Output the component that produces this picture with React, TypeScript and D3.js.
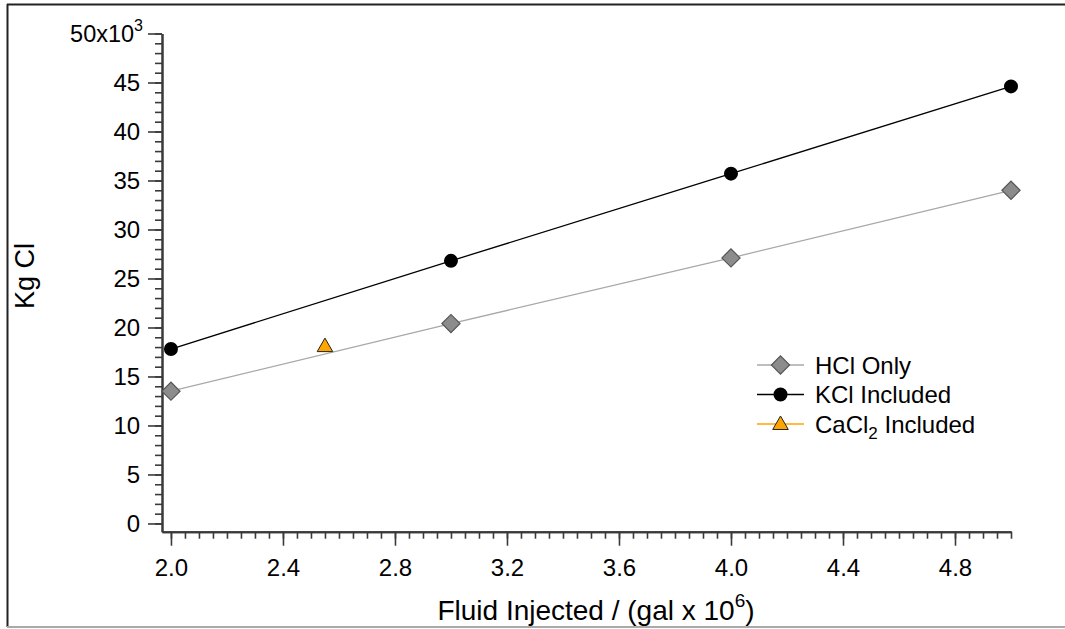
import React, { useEffect, useRef } from "react";
import * as d3 from "d3";

// fluid injected, gal x 10^6
const fluidInjected = [2.0, 3.0, 4.0, 5.0];
// Kg Cl (x 10^3)
const hclOnly = [13.5, 20.4, 27.1, 34.0];
const kclIncluded = [17.8, 26.8, 35.7, 44.6];
const cacl2Fluid = [2.55];
const cacl2Included = [18.1];

const xMajorTicks = [2.0, 2.4, 2.8, 3.2, 3.6, 4.0, 4.4, 4.8];
const yMajorTicks = [0, 5, 10, 15, 20, 25, 30, 35, 40, 45, 50];

const W = 1065;
const H = 629;
const FONT = "'Liberation Sans', Arial, sans-serif";

const colors = {
  axis: "#3a3a3a",
  hcl: "#a8a8a8",
  hclFill: "#8c8c8c",
  hclStroke: "#555",
  kcl: "#000",
  cacl2: "#ffa500",
};

const App = () => {
  const svgRef = useRef<SVGSVGElement>(null);

  useEffect(() => {
    const svg = d3.select(svgRef.current);
    svg.selectAll("*").remove();

    // frame
    svg.append("line").attr("x1", 7).attr("x2", W).attr("y1", 4.5).attr("y2", 4.5)
      .attr("stroke", "#222").attr("stroke-width", 2);
    svg.append("line").attr("x1", 7.5).attr("x2", 7.5).attr("y1", 4).attr("y2", 627)
      .attr("stroke", "#222").attr("stroke-width", 2);
    svg.append("line").attr("x1", 7).attr("x2", W).attr("y1", 627).attr("y2", 627)
      .attr("stroke", "#aaa").attr("stroke-width", 2);

    const x = d3.scaleLinear().domain([1.968, 5.0]).range([162, 1011]);
    const y = d3.scaleLinear().domain([-0.84, 50]).range([531.7, 33.5]);

    // x axis: minor then major
    const xMinor = d3.range(39, 101).map((i) => i * 0.05).filter((v) => v >= 1.968 && v <= 5.0001);
    const gxm = svg.append("g").attr("transform", "translate(0,531.7)")
      .call(d3.axisBottom(x).tickValues(xMinor).tickSize(7).tickSizeOuter(0).tickFormat(() => ""));
    const gx = svg.append("g").attr("transform", "translate(0,531.7)")
      .call(d3.axisBottom(x).tickValues(xMajorTicks).tickSize(14).tickSizeOuter(0).tickFormat(d3.format(".1f")));
    gx.selectAll("text").attr("dy", "1.15em");

    // y axis
    const yMinor = d3.range(0, 51);
    const gym = svg.append("g").attr("transform", "translate(162,0)")
      .call(d3.axisLeft(y).tickValues(yMinor).tickSize(7).tickSizeOuter(0).tickFormat(() => ""));
    const gy = svg.append("g").attr("transform", "translate(162,0)")
      .call(d3.axisLeft(y).tickValues(yMajorTicks).tickSize(14).tickSizeOuter(0)
        .tickFormat((d) => (d === 50 ? "" : String(d))));
    gy.selectAll("text").attr("dx", "-0.2em");

    [gxm, gx, gym, gy].forEach((g) => {
      g.select(".domain").attr("stroke", colors.axis).attr("stroke-width", 2);
      g.selectAll(".tick line").attr("stroke", colors.axis).attr("stroke-width", 1.6);
      g.selectAll("text").attr("font-family", FONT).attr("font-size", 24).attr("fill", "#000");
    });

    // top y label with exponent
    const top = svg.append("text").attr("x", 143).attr("y", y(50) + 8)
      .attr("text-anchor", "end").attr("font-family", FONT).attr("font-size", 23.5);
    top.append("tspan").text("50x10");
    top.append("tspan").attr("font-size", 16).attr("dy", -11).text("3");

    // lines
    const line = d3.line<number>().x((d, i) => x(fluidInjected[i])).y((d) => y(d));
    svg.append("path").datum(hclOnly).attr("d", line).attr("fill", "none")
      .attr("stroke", colors.hcl).attr("stroke-width", 1.3);
    svg.append("path").datum(kclIncluded).attr("d", line).attr("fill", "none")
      .attr("stroke", colors.kcl).attr("stroke-width", 1.3);

    const diamond = d3.symbol(d3.symbolSquare, 165)();
    const circle = d3.symbol(d3.symbolCircle, 154)();
    const triangle = d3.symbol(d3.symbolTriangle, 105)();

    const drawDiamond = (cx: number, cy: number) =>
      svg.append("path").attr("d", diamond)
        .attr("transform", `translate(${cx},${cy}) rotate(45)`)
        .attr("fill", colors.hclFill).attr("stroke", colors.hclStroke).attr("stroke-width", 1.2);
    const drawCircle = (cx: number, cy: number) =>
      svg.append("path").attr("d", circle).attr("transform", `translate(${cx},${cy})`)
        .attr("fill", "#000");
    const drawTriangle = (cx: number, cy: number) =>
      svg.append("path").attr("d", triangle).attr("transform", `translate(${cx},${cy + 1})`)
        .attr("fill", colors.cacl2).attr("stroke", "#222").attr("stroke-width", 1);

    hclOnly.forEach((v, i) => drawDiamond(x(fluidInjected[i]), y(v)));
    kclIncluded.forEach((v, i) => drawCircle(x(fluidInjected[i]), y(v)));
    cacl2Included.forEach((v, i) => drawTriangle(x(cacl2Fluid[i]), y(v)));

    // axis titles
    svg.append("text").attr("transform", "translate(34,276) rotate(-90)")
      .attr("text-anchor", "middle").attr("font-family", FONT).attr("font-size", 27).text("Kg Cl");
    const xt = svg.append("text").attr("x", 596).attr("y", 620)
      .attr("text-anchor", "middle").attr("font-family", FONT).attr("font-size", 28);
    xt.append("tspan").text("Fluid Injected / (gal x 10");
    xt.append("tspan").attr("font-size", 19).attr("dy", -13).text("6");
    xt.append("tspan").attr("dy", 13).text(")");

    // legend
    const legend = [
      { label: "HCl Only", color: colors.hcl, mark: drawDiamond, sub: "" },
      { label: "KCl Included", color: colors.kcl, mark: drawCircle, sub: "" },
      { label: "CaCl", color: colors.cacl2, mark: drawTriangle, sub: "2" },
    ];
    legend.forEach((l, i) => {
      const ly = 365 + i * 29.5;
      svg.append("line").attr("x1", 757).attr("x2", 804).attr("y1", ly).attr("y2", ly)
        .attr("stroke", l.color).attr("stroke-width", 1.3);
      l.mark(780.5, ly);
      const t = svg.append("text").attr("x", 815).attr("y", ly + 8.5)
        .attr("font-family", FONT).attr("font-size", 24);
      t.append("tspan").text(l.label);
      if (l.sub) {
        t.append("tspan").attr("font-size", 17).attr("dy", 6).text(l.sub);
        t.append("tspan").attr("dy", -6).text(" Included");
      }
    });
  }, []);

  return (
    <svg ref={svgRef} width={W} height={H}
      style={{ position: "absolute", left: 0, top: 0, background: "#fff" }} />
  );
};

export default App;
